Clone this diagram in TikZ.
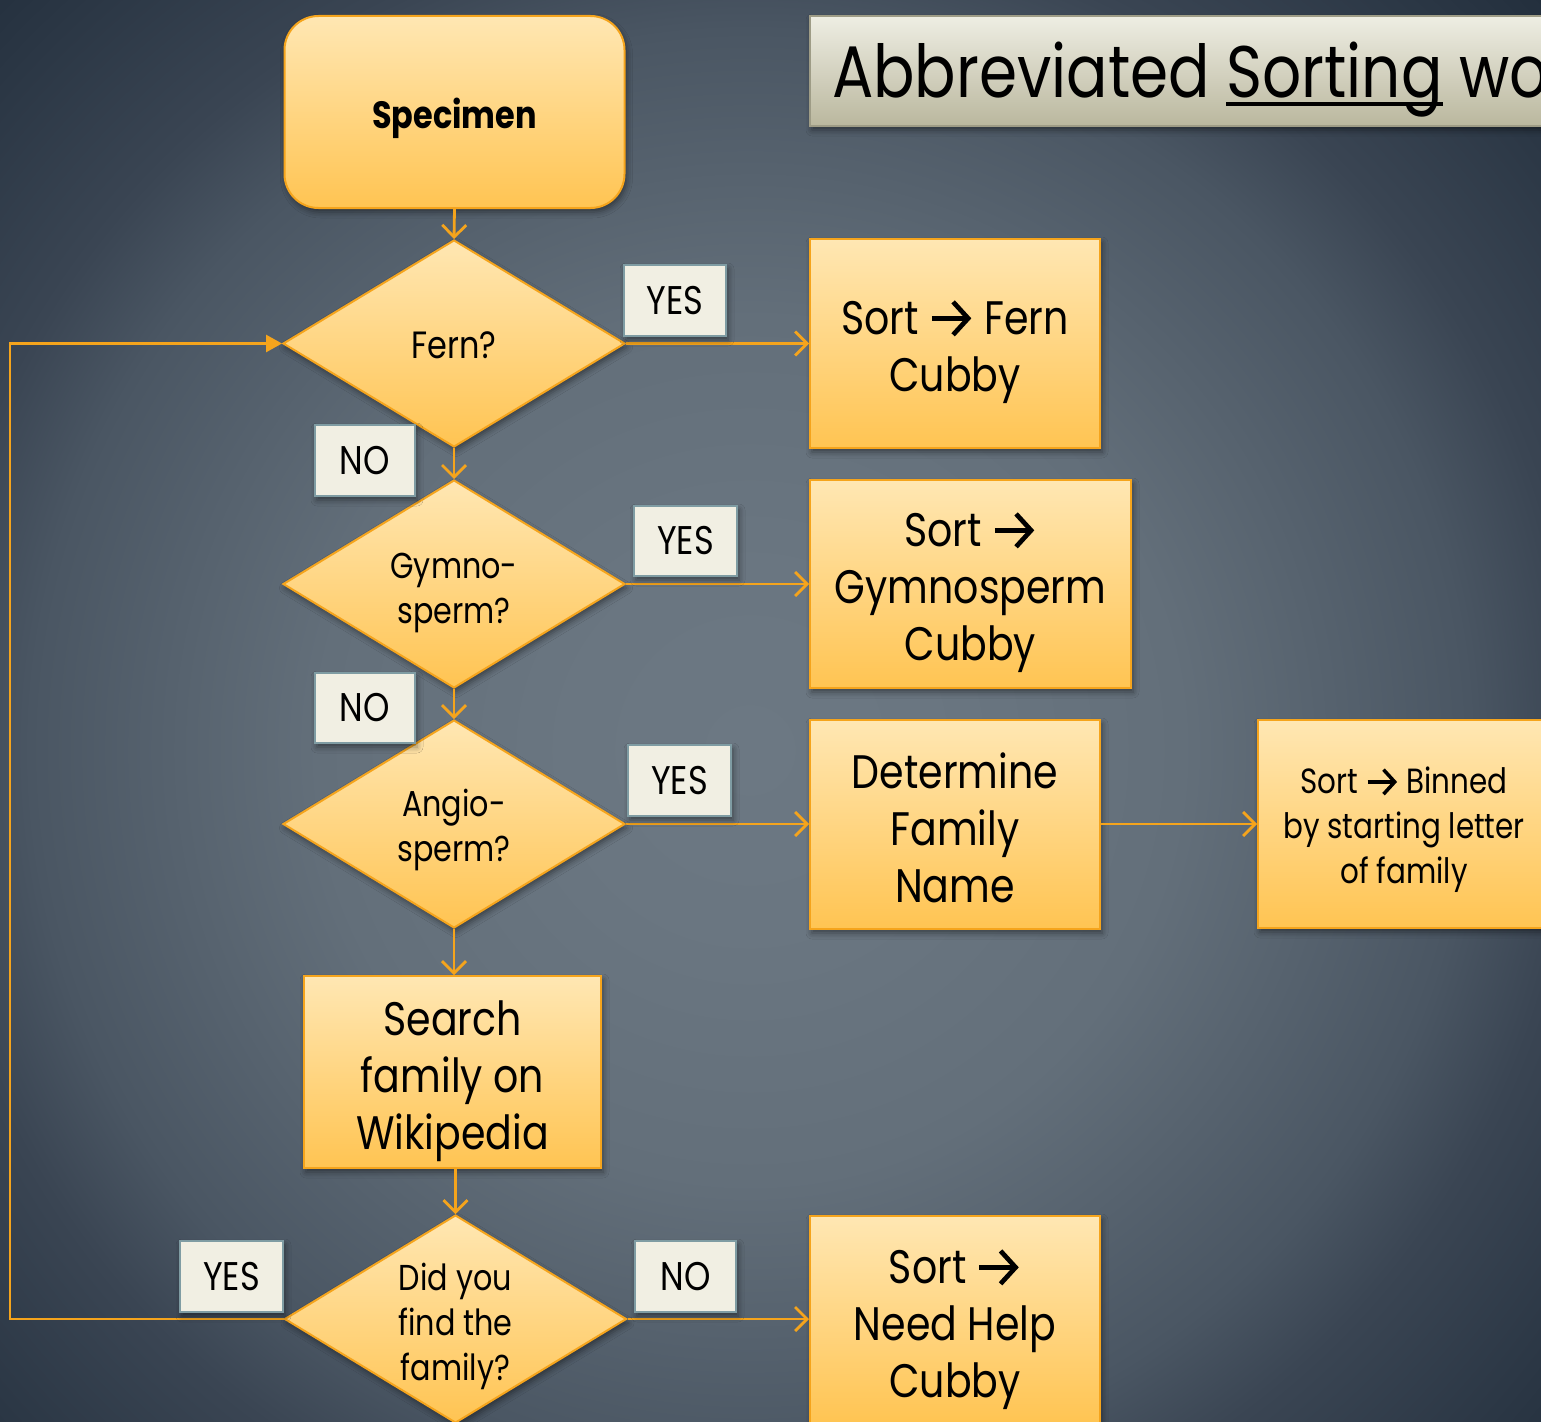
\documentclass[tikz,border=0pt]{standalone}
\usepackage{fontspec}
\setmainfont{Poppins}[FakeStretch=0.84]
\usetikzlibrary{arrows.meta,shapes.geometric,shadows.blur}
\definecolor{lineor}{HTML}{F5A41C}
\definecolor{boxtop}{HTML}{FFE7B3}
\definecolor{boxbot}{HTML}{FFC452}
\definecolor{lblfill}{HTML}{F1EFE3}
\definecolor{lbldraw}{HTML}{7F9CA3}
\definecolor{titletop}{HTML}{EEEEE3}
\definecolor{titlebot}{HTML}{BAB79E}
\definecolor{titledraw}{HTML}{9E9C86}
\definecolor{bga}{HTML}{6C7883}
\definecolor{bgb}{HTML}{6A7681}
\definecolor{bgc}{HTML}{636F7A}
\definecolor{bgm}{HTML}{4A5663}
\definecolor{bgn}{HTML}{3A4553}
\definecolor{bgo}{HTML}{2A3644}
\definecolor{bgd}{HTML}{1E2A38}
\pgfdeclareradialshading{bgshade}{\pgfpoint{0bp}{0bp}}{color(0bp)=(bga); color(5bp)=(bgb); color(12bp)=(bgc); color(20bp)=(bgm); color(23bp)=(bgn); color(28bp)=(bgo); color(32bp)=(bgd); color(50bp)=(bgd)}
\newcommand\sarr{\tikz[x=1em,y=1em,baseline=0pt]{\draw[line width=0.1em,line cap=butt,-{Straight Barb[length=0.32em,width=0.7em,line width=0.1em]}] (0,0.34) -- (0.84,0.34);}}
\newcommand\myul[1]{\setbox0\hbox{#1}\rlap{\rule[-0.13em]{\wd0}{0.06em}}\box0\relax}
\tikzset{
  shad/.style={blur shadow={shadow xshift=2pt,shadow yshift=-4pt,shadow blur radius=6pt,shadow opacity=45}},
  box/.style={shape=rectangle,draw=lineor,line width=2pt,top color=boxtop,bottom color=boxbot,inner sep=0pt,shad},
  boxtext/.style={align=center,inner sep=0pt,font=\fontsize{47}{57}\selectfont},
  dia/.style={shape=diamond,draw=lineor,line width=2pt,top color=boxtop,bottom color=boxbot,inner sep=0pt,shad},
  diatext/.style={align=center,inner sep=0pt,font=\fontsize{36}{45}\selectfont},
  lbl/.style={shape=rectangle,draw=lbldraw,line width=2pt,fill=lblfill,inner sep=0pt,shad,font=\fontsize{40}{44}\selectfont},
  conn/.style={draw=lineor,line width=2.8pt,-{Straight Barb[length=12pt,width=24pt,line width=2.8pt]}},
  loopconn/.style={draw=lineor,line width=2.8pt,-{Triangle[length=16pt,width=17pt]}}
}
\begin{document}
\begin{tikzpicture}[x=1pt,y=-1pt]
\useasboundingbox (0,0) rectangle (1541,1421);
\clip (0,0) rectangle (1541,1421);
\shade[shading=bgshade] (-150,-150) rectangle (1650,1650);
% title
\node[shape=rectangle,draw=titledraw,line width=2pt,top color=titletop,bottom color=titlebot,minimum width=760pt,minimum height=110pt,inner sep=0pt,shad] (title) at (1190,71) {};
\node[anchor=base west,inner sep=0pt,font=\fontsize{73}{80}\selectfont] (titletext) at (832,97) {Abbreviated \myul{Sorting} wo};
% main column
\node[box,rounded corners=34pt,minimum width=340pt,minimum height=192pt] (spec) at (454.5,112) {};
\node[inner sep=0pt,font=\bfseries\fontsize{38}{42}\selectfont] (tspec) at ([yshift=-6pt]spec.center) {Specimen};
\node[dia,minimum width=342pt,minimum height=207pt] (d1) at (454,343.5) {};
\node[diatext,font=\fontsize{38}{45}\selectfont] (t1) at ([yshift=-2pt]d1.center) {Fern?};
\node[dia,minimum width=342pt,minimum height=208pt] (d2) at (454,584) {};
\node[diatext] (t2) at ([yshift=-9pt]d2.center) {Gymno-\\sperm?};
\node[dia,minimum width=342pt,minimum height=208pt] (d3) at (454,824) {};
\node[diatext] (t3) at ([yshift=-6pt]d3.center) {Angio-\\sperm?};
\node[box,minimum width=297pt,minimum height=192pt] (srch) at (452.5,1072) {};
\node[boxtext] (tsrch) at ([yshift=-9pt]srch.center) {Search\\family on\\Wikipedia};
\node[dia,minimum width=342pt,minimum height=208pt] (d4) at (455.5,1319) {};
\node[diatext] (t4) at ([yshift=-7pt]d4.center) {Did you\\find the\\family?};
% right column
\node[box,minimum width=290pt,minimum height=209pt] (bf) at (955,343.5) {};
\node[boxtext] (tbf) at ([yshift=-8pt]bf.center) {Sort \sarr\ Fern\\Cubby};
\node[box,minimum width=321pt,minimum height=208pt] (bg) at (970.5,584) {};
\node[boxtext] (tbg) at ([yshift=-8pt]bg.center) {Sort \sarr\\Gymnosperm\\Cubby};
\node[box,minimum width=290pt,minimum height=209pt] (bd) at (955,824.5) {};
\node[boxtext] (tbd) at ([yshift=-3pt]bd.center) {Determine\\Family\\Name};
\node[box,minimum width=292pt,minimum height=208pt] (bb) at (1404,824) {};
\node[boxtext,font=\fontsize{35}{45}\selectfont] (tbb) at ([yshift=-6pt]bb.center) {Sort \sarr\ Binned\\by starting letter\\of family};
\node[box,minimum width=290pt,minimum height=208pt] (bn) at (955,1320) {};
\node[boxtext] (tbn) at ([yshift=-9pt]bn.center) {Sort \sarr\\Need Help\\Cubby};
% connectors
\draw[conn] (spec.south) -- (d1.north);
\draw[conn] (d1.east) -- (bf.west |- d1.east);
\draw[conn] (d1.south) -- (d2.north);
\draw[conn] (d2.east) -- (bg.west |- d2.east);
\draw[conn] (d2.south) -- (d3.north);
\draw[conn] (d3.east) -- (bd.west |- d3.east);
\draw[conn] (bd.east |- bb.west) -- (bb.west);
\draw[conn] (d3.south) -- (d3.south |- srch.north);
\draw[conn] (d4.north |- srch.south) -- (d4.north);
\draw[conn] (d4.east) -- (bn.west |- d4.east);
\coordinate (loopc) at (10,1319);
\draw[loopconn] (d4.west) -- (loopc) |- (d1.west);
% labels
\node[lbl,minimum width=102pt,minimum height=71pt] (y1) at (675,300.5) {YES};
\node[lbl,minimum width=100pt,minimum height=71pt] (n1) at (365,460.5) {NO};
\node[lbl,minimum width=103pt,minimum height=70pt] (y2) at (685.5,541) {YES};
\node[lbl,minimum width=100pt,minimum height=70pt] (n2) at (365,708) {NO};
\node[lbl,minimum width=103pt,minimum height=71pt] (y3) at (679.5,780.5) {YES};
\node[lbl,minimum width=103pt,minimum height=71pt] (y4) at (231.5,1276.5) {YES};
\node[lbl,minimum width=101pt,minimum height=71pt] (n4) at (685.5,1276.5) {NO};
\end{tikzpicture}
\end{document}
